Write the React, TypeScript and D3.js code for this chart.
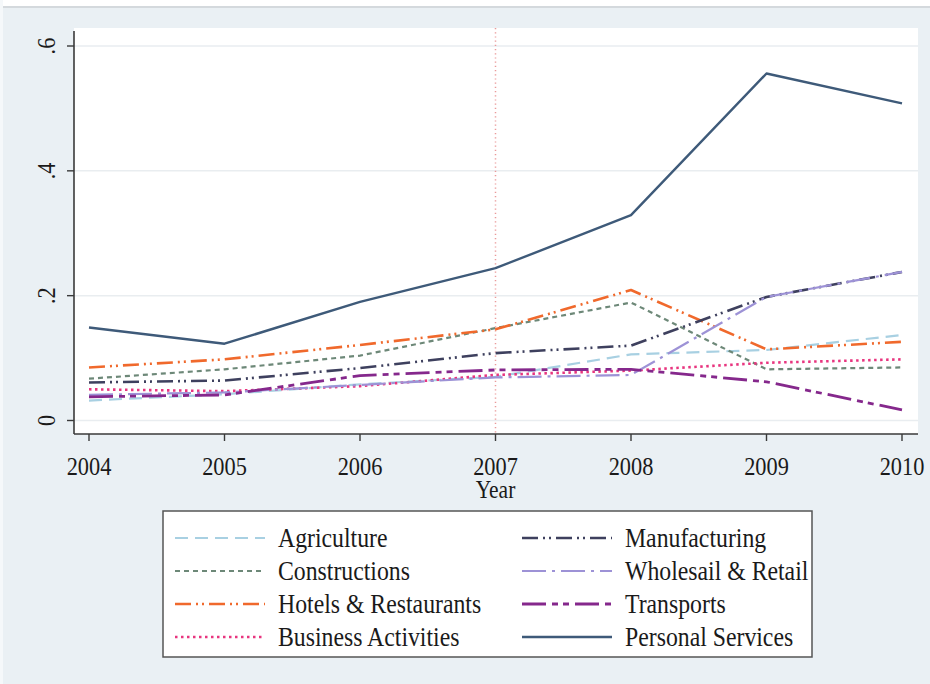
import React from "react";
import * as d3 from "d3";

const years = [2004, 2005, 2006, 2007, 2008, 2009, 2010];
const yTicks = [0, 0.2, 0.4, 0.6];
const yTickLabels = ["0", ".2", ".4", ".6"];

const agriculture = [0.032, 0.042, 0.058, 0.07, 0.106, 0.113, 0.137];
const constructions = [0.067, 0.082, 0.104, 0.148, 0.189, 0.082, 0.085];
const hotels = [0.085, 0.098, 0.121, 0.146, 0.209, 0.114, 0.126];
const business = [0.05, 0.047, 0.055, 0.073, 0.08, 0.0925, 0.098];
const manufacturing = [0.061, 0.064, 0.084, 0.108, 0.12, 0.198, 0.238];
const wholesale = [0.041, 0.045, 0.057, 0.069, 0.073, 0.198, 0.238];
const transports = [0.038, 0.041, 0.072, 0.081, 0.082, 0.062, 0.017];
const personal = [0.149, 0.123, 0.19, 0.244, 0.329, 0.556, 0.508];

const seriesNames = [
  "Agriculture",
  "Constructions",
  "Hotels & Restaurants",
  "Business Activities",
  "Manufacturing",
  "Wholesail & Retail",
  "Transports",
  "Personal Services",
];
const seriesValues = [agriculture, constructions, hotels, business, manufacturing, wholesale, transports, personal];
const seriesColors = ["#a8d0e2", "#6d8878", "#f0692c", "#e8357f", "#3e405e", "#9d92d6", "#85288c", "#3e5a79"];
const seriesDash = ["13,7", "5,4", "16,5,2,4,2,5", "2.5,3.5", "16,5,2,4,2,5", "24,6,3,6", "24,6,6,5,6,6", null];
const seriesWidth = [2.2, 2.2, 2.6, 2.6, 2.6, 2.2, 2.8, 2.4];

const SERIF = "'Liberation Serif', 'Times New Roman', serif";

export default function App() {
  const x = d3.scaleLinear().domain([2004, 2010]).range([89, 902]);
  const y = d3.scaleLinear().domain([0, 0.6]).range([420.5, 46]);
  const line = d3
    .line<number>()
    .x((_, i) => x(years[i]))
    .y((v) => y(v));

  const plotLeft = 74;
  const plotRight = 918;
  const plotTop = 28;
  const plotBottom = 434;

  const legendX = 163;
  const legendY = 511;
  const rowY = [538, 571, 604, 637];
  const colSample = [
    [175, 265],
    [522, 612],
  ];
  const colText = [278, 625];

  return (
    <svg
      width={930}
      height={684}
      style={{ position: "absolute", left: 0, top: 0, display: "block" }}
    >
      <rect x={0} y={0} width={930} height={684} fill="#eaf0f4" />
      <rect x={0} y={0} width={930} height={6} fill="#ffffff" />
      <line x1={0} x2={930} y1={7} y2={7} stroke="#cdd2d6" strokeWidth={1.5} />
      <rect x={0} y={0} width={3} height={684} fill="#f5f8fa" />

      {/* plot region */}
      <rect x={plotLeft} y={plotTop} width={plotRight - plotLeft} height={plotBottom - plotTop} fill="#ffffff" />
      {yTicks.map((t) => (
        <line key={"g" + t} x1={plotLeft} x2={plotRight} y1={y(t)} y2={y(t)} stroke="#e9edf0" strokeWidth={1.5} />
      ))}
      <line
        x1={x(2007)}
        x2={x(2007)}
        y1={plotTop}
        y2={plotBottom}
        stroke="#ea9a9a"
        strokeWidth={1.5}
        strokeDasharray="1.2,3"
      />

      {/* series */}
      {seriesValues.map((vals, i) => (
        <path
          key={seriesNames[i]}
          d={line(vals) || ""}
          fill="none"
          stroke={seriesColors[i]}
          strokeWidth={seriesWidth[i]}
          strokeDasharray={seriesDash[i] || undefined}
          strokeLinejoin="round"
        />
      ))}

      {/* axes */}
      <line x1={plotLeft} x2={plotLeft} y1={plotTop + 3} y2={plotBottom} stroke="#3a3a3a" strokeWidth={1.6} />
      <line x1={plotLeft} x2={plotRight} y1={plotBottom} y2={plotBottom} stroke="#3a3a3a" strokeWidth={1.6} />
      {yTicks.map((t, i) => (
        <g key={"yt" + t}>
          <line x1={plotLeft - 7} x2={plotLeft} y1={y(t)} y2={y(t)} stroke="#3a3a3a" strokeWidth={1.4} />
          <text
            transform={`translate(55, ${y(t)}) rotate(-90) scale(0.86,1)`}
            textAnchor="middle"
            fontFamily={SERIF}
            fontSize={26}
            fill="#1a1a1a"
          >
            {yTickLabels[i]}
          </text>
        </g>
      ))}
      {years.map((yr) => (
        <g key={"xt" + yr}>
          <line x1={x(yr)} x2={x(yr)} y1={plotBottom} y2={plotBottom + 7} stroke="#3a3a3a" strokeWidth={1.4} />
          <text
            transform={`translate(${x(yr)}, 475) scale(0.86,1)`}
            textAnchor="middle"
            fontFamily={SERIF}
            fontSize={26}
            fill="#1a1a1a"
          >
            {yr}
          </text>
        </g>
      ))}
      <text
        transform={`translate(${x(2007)}, 498) scale(0.86,1)`}
        textAnchor="middle"
        fontFamily={SERIF}
        fontSize={25}
        fill="#1a1a1a"
      >
        Year
      </text>

      {/* legend */}
      <rect x={legendX} y={legendY} width={649} height={146} fill="#ffffff" stroke="#555" strokeWidth={1.5} />
      {seriesNames.map((name, i) => {
        const col = i < 4 ? 0 : 1;
        const row = i % 4;
        const ry = rowY[row];
        return (
          <g key={"lg" + name}>
            <line
              x1={colSample[col][0]}
              x2={colSample[col][1]}
              y1={ry}
              y2={ry}
              stroke={seriesColors[i]}
              strokeWidth={seriesWidth[i]}
              strokeDasharray={seriesDash[i] || undefined}
            />
            <text
              transform={`translate(${colText[col]}, ${ry + 9}) scale(0.88,1)`}
              fontFamily={SERIF}
              fontSize={27}
              fill="#1a1a1a"
            >
              {name}
            </text>
          </g>
        );
      })}
    </svg>
  );
}
